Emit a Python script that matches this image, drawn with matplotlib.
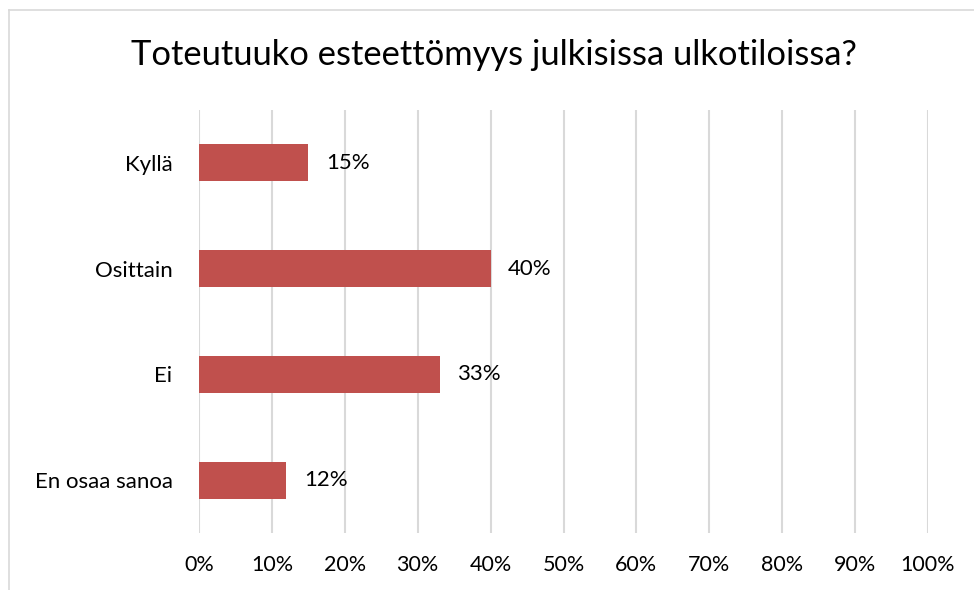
import matplotlib
matplotlib.use("Agg")
import matplotlib.pyplot as plt
from matplotlib.lines import Line2D

# data
categories = ["Kyllä", "Osittain", "Ei", "En osaa sanoa"]
values = [15, 40, 33, 12]
ticks = [0, 10, 20, 30, 40, 50, 60, 70, 80, 90, 100]
title = "Toteutuuko esteettömyys julkisissa ulkotiloissa?"

plt.rcParams['font.family'] = ['Lato', 'DejaVu Sans']

fig = plt.figure(figsize=(9.74, 5.90), dpi=100)
ax = fig.add_axes([199 / 974, 1 - 533 / 590, (928 - 199) / 974, (533 - 110) / 590])

y = list(range(len(categories)))
ax.barh(y, values, height=0.35, color="#C0504D", zorder=3)
for yi, v in zip(y, values):
    ax.text(v + 2.4, yi, f"{v}%", va="center", ha="left", fontsize=16, color="black")

ax.set_xlim(0, 100)
ax.set_ylim(len(categories) - 0.5, -0.5)
ax.set_xticks(ticks)
ax.set_xticklabels([f"{t}%" for t in ticks], fontsize=15.5)
ax.set_yticks(y)
ax.set_yticklabels(categories, fontsize=16)
ax.tick_params(axis="both", length=0)
ax.tick_params(axis="x", pad=16)
ax.tick_params(axis="y", pad=19)
ax.grid(axis="x", color="#D9D9D9", linewidth=1.5, zorder=0)
for s in ax.spines.values():
    s.set_visible(False)

fig.text(494 / 974, 1 - 55 / 590, title, ha="center", va="center", fontsize=24.8)

# outer frame (top and left edges visible)
fig.add_artist(Line2D([9 / 974, 1], [1 - 10 / 590, 1 - 10 / 590], color="#D9D9D9", linewidth=1.2))
fig.add_artist(Line2D([9 / 974, 9 / 974], [0, 1 - 10 / 590], color="#D9D9D9", linewidth=1.2))

fig.savefig("out.png", dpi=100)
